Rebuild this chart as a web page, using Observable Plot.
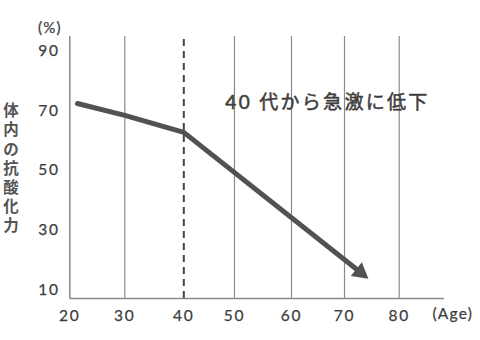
<!DOCTYPE html>
<html>
<head>
<meta charset="utf-8">
<script src="https://cdn.jsdelivr.net/npm/d3@7"></script>
<script src="https://cdn.jsdelivr.net/npm/@observablehq/plot@0.6"></script>
<style>
  html, body { margin: 0; padding: 0; background: #fff; }
  #chart svg { display: block; }
</style>
</head>
<body>
<div id="chart"></div>
<script>
// Data
const ages = [21.4, 30, 40, 72.9];
const values = [72.5, 68.5, 62.8, 15.8];
const xTicks = [20, 30, 40, 50, 60, 70, 80];
const yTicks = [10, 30, 50, 70, 90];
const gridAges = [30, 50, 60, 70, 80];
const markerAge = [40];
const annotation = [{age: 48.2, value: 72.7, label: "40 代から急激に低下"}];
const yLabel = "体内の抗酸化力";

const series = ages.map((a, i) => ({age: a, value: values[i]}));
const head = [series[series.length - 1]];

const font = "Lato, 'Noto Sans CJK JP', sans-serif";
const ink = "#3d3d3d";

const chart = Plot.plot({
  width: 480,
  height: 340,
  marginTop: 36,
  marginBottom: 42,
  marginLeft: 69.3,
  marginRight: 36,
  style: {fontFamily: font, color: ink, background: "#fff"},
  x: {
    type: "linear",
    domain: [20, 30, 40, 50, 60, 70, 80, 88.3],
    range: [69.3, 124.3, 183.3, 234, 291, 344, 398.7, 444]
  },
  y: {domain: [7, 95]},
  marks: [
    Plot.ruleX(gridAges, {y1: 7, y2: 95, stroke: "#8a8a8a", strokeWidth: 1.2}),
    Plot.ruleX(markerAge, {y1: 7, y2: 95, stroke: "#444", strokeWidth: 2, strokeDasharray: "7,5"}),
    Plot.ruleY([7], {stroke: "#8a8a8a", strokeWidth: 1.5}),
    Plot.ruleX([20], {y1: 7, y2: 95, stroke: "#8a8a8a", strokeWidth: 1.5}),
    Plot.axisX({ticks: xTicks, tickSize: 0, tickPadding: 11, label: null, fontSize: 15.5, fill: ink}),
    Plot.axisY({ticks: yTicks, tickSize: 0, tickPadding: 10, label: null, fontSize: 15.5, fill: ink}),
    Plot.line(series, {x: "age", y: "value", stroke: "#525252", strokeWidth: 5, strokeLinejoin: "round"}),
    Plot.dot(head, {x: "age", y: "value", symbol: "triangle", r: 6.6, fill: "#525252", stroke: null, rotate: 128.3}),
    Plot.text(annotation, {x: "age", y: "value", text: "label", textAnchor: "start", fontSize: 19, fill: ink, stroke: ink, strokeWidth: 0.5}),
    Plot.text(["(Age)"], {frameAnchor: "bottom-right", dx: -12, dy: 20, textAnchor: "start", fontSize: 15.5, fill: ink, stroke: ink, strokeWidth: 0.25}),
    Plot.text(["(%)"], {frameAnchor: "top-left", dx: -20, dy: -14, textAnchor: "middle", fontSize: 15, fill: ink, stroke: ink, strokeWidth: 0.25}),
    Plot.text([yLabel.split("").join("\n")], {frameAnchor: "left", dx: -58.8, textAnchor: "middle", lineAnchor: "middle", lineHeight: 1.23, fontSize: 15.5, fontWeight: "bold", fill: "#555"})
  ]
});
// letter spacing and weight applied to the rendered text
const svg = d3.select(chart);
const tickText = new Set([...xTicks, ...yTicks].map(String));
svg.selectAll("text").filter(function() { return tickText.has(this.textContent); })
  .style("letter-spacing", "1.8px").attr("stroke", ink).attr("stroke-width", 0.25).attr("paint-order", "stroke");
svg.selectAll("text").filter(function() { return this.textContent === annotation[0].label; }).style("letter-spacing", "2.3px");
svg.selectAll("text").filter(function() { return this.textContent === "(Age)" || this.textContent === "(%)"; }).style("letter-spacing", "1.2px");
document.getElementById("chart").appendChild(chart);
</script>
</body>
</html>
